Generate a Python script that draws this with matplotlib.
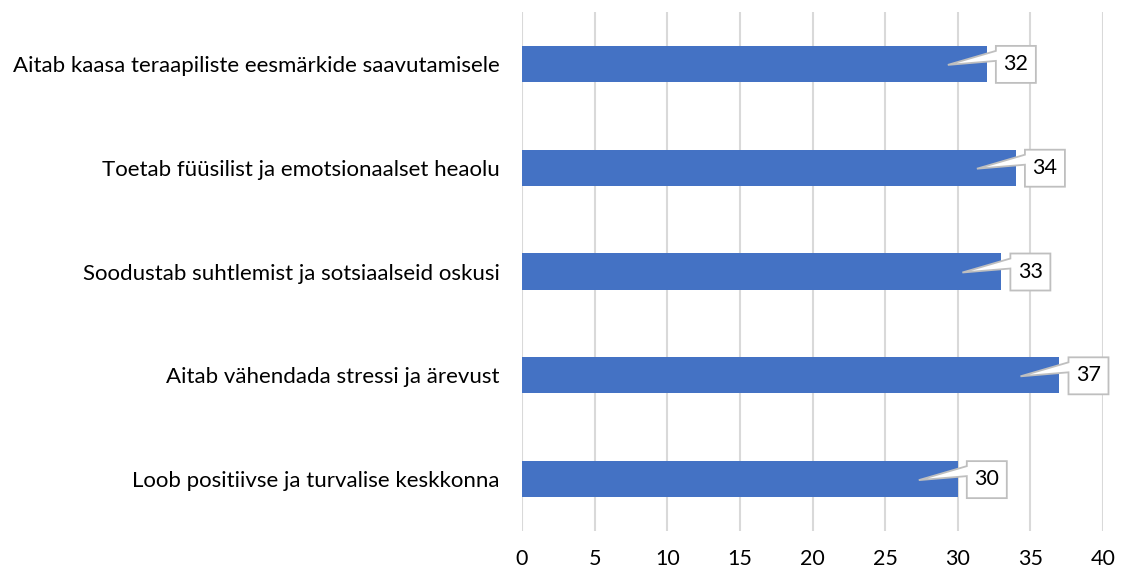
import numpy as np
import matplotlib
matplotlib.use("Agg")
import matplotlib.pyplot as plt
import matplotlib.transforms as mtransforms
from matplotlib.patches import Polygon

categories = [
    "Aitab kaasa teraapiliste eesmärkide saavutamisele",
    "Toetab füüsilist ja emotsionaalset heaolu",
    "Soodustab suhtlemist ja sotsiaalseid oskusi",
    "Aitab vähendada stressi ja ärevust",
    "Loob positiivse ja turvalise keskkonna",
]
values = [32, 34, 33, 37, 30]
xticks = [0, 5, 10, 15, 20, 25, 30, 35, 40]

plt.rcParams['font.family'] = ['Lato', 'DejaVu Sans']

fig = plt.figure(figsize=(11.21, 5.71), dpi=100)
ax = fig.add_axes([0.4657, 0.070, 0.5183, 0.909])

y = np.arange(len(categories))
ax.barh(y, values, height=0.35, color="#4472c4", zorder=2)
ax.set_ylim(len(categories) - 0.5, -0.5)
ax.set_xlim(0, 40)
ax.set_xticks(xticks)
ax.set_yticks(y)
ax.set_yticklabels(categories, fontsize=16, color="#000000")
ax.tick_params(axis='x', labelsize=15.5, length=0, pad=13)
ax.tick_params(axis='y', length=0, pad=16)
ax.grid(axis='x', color="#d9d9d9", linewidth=1.5, zorder=0)
for s in ax.spines.values():
    s.set_visible(False)

# callout boxes, shape in pixel offsets from bar end
shape = [(9, 18), (49, 18), (49, -19), (9, -19), (9, 3), (-39, -1), (9, 13)]
for yi, v in zip(y, values):
    tr = mtransforms.Affine2D() + mtransforms.ScaledTranslation(v, yi, ax.transData)
    poly = Polygon(shape, closed=True, facecolor="white", edgecolor="#bfbfbf",
                   linewidth=1.3, transform=tr, zorder=3, clip_on=False)
    ax.add_patch(poly)
    ax.text(29, 0, str(v), transform=tr, ha="center", va="center",
            fontsize=15.5, zorder=4)

fig.savefig("out.png", dpi=100)
